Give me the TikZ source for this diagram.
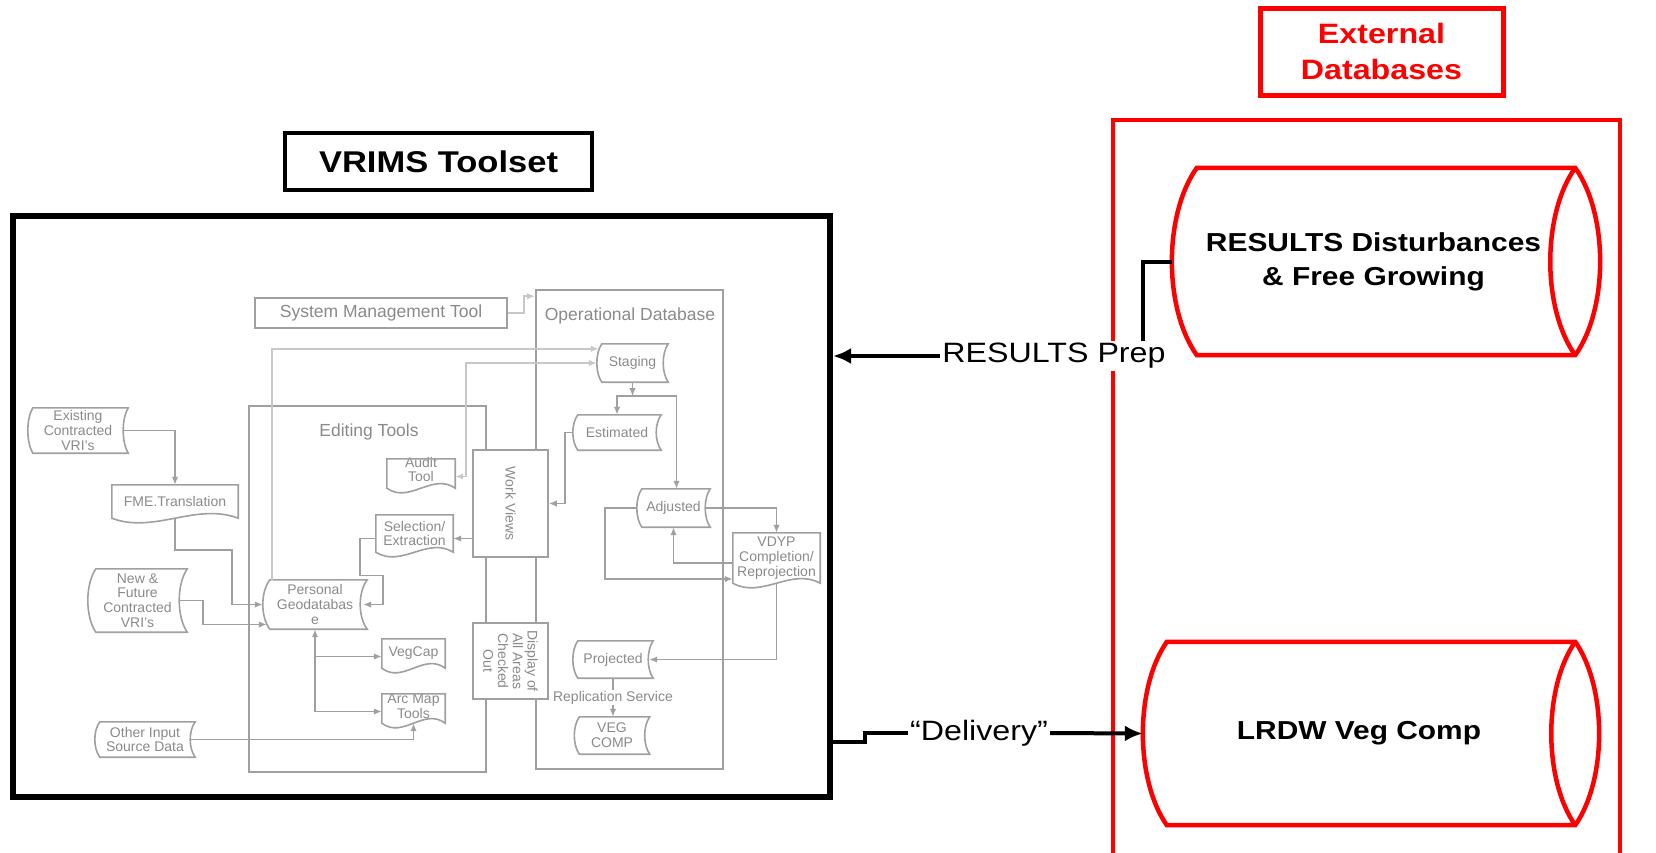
\documentclass[tikz,border=0pt]{standalone}
\usepackage{fontspec}
\setmainfont{Liberation Sans}
\newfontfamily\widefont[FakeStretch=1.15]{Liberation Sans}
\usepackage{tikz}
\usetikzlibrary{shapes,arrows.meta,positioning,calc}

\definecolor{lineg}{HTML}{A0A0A0}
\definecolor{textg}{HTML}{8A8A8A}
\definecolor{lightg}{HTML}{C8C8C8}
\definecolor{xred}{HTML}{FF0000}

% outline of a stored data symbol round node #1, curve depth #2
\newcommand{\sdframe}[2]{%
  \draw[gline] ($(#1.north west)+(#2,0)$) -- (#1.north east)
    .. controls ($(#1.north east)!0.25!(#1.south east)+(-1.33*#2,0)$)
       and ($(#1.north east)!0.75!(#1.south east)+(-1.33*#2,0)$) .. (#1.south east)
    -- ($(#1.south west)+(#2,0)$)
    .. controls ($(#1.north west)!0.75!(#1.south west)+(-0.33*#2,0)$)
       and ($(#1.north west)!0.25!(#1.south west)+(-0.33*#2,0)$) .. ($(#1.north west)+(#2,0)$) -- cycle;}
% outline of a document symbol, wavy bottom
\newcommand{\docframe}[1]{%
  \draw[gline] (#1.south west) -- (#1.north west) -- (#1.north east) -- (#1.south east)
    .. controls ($(#1.south east)!0.333!(#1.south west)+(0,-16)$)
       and ($(#1.south east)!0.667!(#1.south west)+(0,16)$) .. (#1.south west) -- cycle;}
% lying cylinder round node #1, bulge #2, lens beyond the east side
\newcommand{\cylframe}[2]{%
  \draw[rline] ($(#1.north west)+(#2,0)$) -- (#1.north east)
    .. controls ($(#1.north east)!0.25!(#1.south east)+(1.33*#2,0)$)
       and ($(#1.north east)!0.75!(#1.south east)+(1.33*#2,0)$) .. (#1.south east)
    -- ($(#1.south west)+(#2,0)$)
    .. controls ($(#1.north west)!0.75!(#1.south west)+(-0.33*#2,0)$)
       and ($(#1.north west)!0.25!(#1.south west)+(-0.33*#2,0)$) .. ($(#1.north west)+(#2,0)$) -- cycle;
  \draw[rline] (#1.north east)
    .. controls ($(#1.north east)!0.25!(#1.south east)+(-1.33*#2,0)$)
       and ($(#1.north east)!0.75!(#1.south east)+(-1.33*#2,0)$) .. (#1.south east);}

\begin{document}
\begin{tikzpicture}[x=1pt,y=-1pt,>={Latex[length=8pt,width=6.5pt]},
    gline/.style={draw=lineg,line width=1.6pt},
    lline/.style={draw=lightg,line width=1.6pt},
    gnode/.style={text=textg,font=\fontsize{14}{14.7}\selectfont,align=center,inner sep=0pt},
    gbox/.style={gnode,draw=lineg,line width=1.6pt},
    gtitle/.style={text=textg,font=\fontsize{17.5}{20}\selectfont,inner sep=0pt,anchor=base},
    bline/.style={line width=4pt},
    barrow/.style={-{Latex[length=18pt,width=16pt]}},
    rline/.style={draw=xred,line width=4.5pt,line join=miter},
    titlebox/.style={draw,line width=4pt,align=center,font=\widefont\bfseries\fontsize{30}{36}\selectfont},
    outtext/.style={font=\widefont\fontsize{28}{34}\selectfont,fill=white,inner sep=2pt},
    cyltext/.style={align=center,inner sep=0pt,font=\widefont\bfseries\fontsize{26}{34}\selectfont}]
    \useasboundingbox (0,0) rectangle (1656,852);
    \clip (0,0) rectangle (1656,852);

    \node[draw,line width=6pt,minimum width=817pt,minimum height=581pt] (toolset) at (421.5,506.5) {};
    \node[rline,minimum width=507pt,minimum height=750pt] (extbox) at (1366.5,495) {};

    % grey VRIMS diagram
    \node[gbox,minimum width=237pt,minimum height=366pt] (edit) at (367.5,589) {};
    \node[gbox,minimum width=187pt,minimum height=479pt] (opdb) at (629.5,529.5) {};
    \node[gtitle] (edittitle) at (369,436) {Editing Tools};
    \node[gtitle] (opdbtitle) at (630,320) {Operational Database};
    \node[gbox,fill=white,minimum width=252pt,minimum height=30pt,font=\fontsize{17.5}{20}\selectfont] (smt) at (381,313) {System Management Tool};
    \node[gbox,fill=white,minimum width=75pt,minimum height=107pt,
      label={[gnode,rotate=-90]center:Work Views}] (workviews) at (510.5,503.5) {};
    \node[gbox,fill=white,minimum width=75pt,minimum height=76pt,
      label={[gnode,rotate=-90]center:Display of\\All Areas\\Checked\\Out}] (display) at (510.5,661) {};

    \node[gnode,minimum width=100pt,minimum height=45pt] (exist) at (78,430.5) {Existing\\Contracted\\VRI's};
    \node[gnode,minimum width=99pt,minimum height=63pt] (newvri) at (137.5,600.5) {New \&\\Future\\Contracted\\VRI's};
    \node[gnode,minimum width=100pt,minimum height=35pt] (other) at (145,739.5) {Other Input\\Source Data};
    \node[gnode,minimum width=104pt,minimum height=49pt] (pgdb) at (315,604.5) {Personal\\Geodatabas\\e};
    \node[gnode,minimum width=71pt,minimum height=38pt] (staging) at (632.5,363) {Staging};
    \node[gnode,minimum width=88pt,minimum height=35pt] (estimated) at (617,432.5) {Estimated};
    \node[gnode,minimum width=73pt,minimum height=38pt] (adjusted) at (673.5,508) {Adjusted};
    \node[gnode,minimum width=80pt,minimum height=37pt] (projected) at (613,659.5) {Projected};
    \node[gnode,minimum width=75pt,minimum height=37pt] (vegcomp) at (612,735.5) {VEG\\COMP};

    \node[gnode,minimum width=126pt,minimum height=33pt] (fme) at (175,501.5) {FME.Translation};
    \node[gnode,minimum width=68pt,minimum height=29pt,
      label={[gnode,yshift=4pt]center:Audit\\Tool}] (audit) at (421,473.5) {};
    \node[gnode,minimum width=77pt,minimum height=37pt] (selection) at (414.5,533.5) {Selection/\\Extraction};
    \node[gnode,minimum width=63pt,minimum height=29pt] (vegcap) at (413.5,653.5) {VegCap};
    \node[gnode,minimum width=63pt,minimum height=29pt,
      label={[gnode,yshift=2pt]center:Arc Map\\Tools}] (arcmap) at (413.5,708.5) {};
    \node[gnode,minimum width=87pt,minimum height=50pt] (vdyp) at (776.5,558) {VDYP\\Completion/\\Reprojection};

    \foreach \n/\c in {exist/5,newvri/8,other/5,pgdb/7,staging/5,estimated/5,adjusted/5,projected/5,vegcomp/5}
        \sdframe{\n}{\c};
    \foreach \n in {fme,audit,selection,vegcap,arcmap,vdyp}
        \docframe{\n};

    \draw[lline,->] (smt.east) -- ++(16,0) |- ($(opdb.north west)+(0,7)$);
    \draw[lline,->] ($(pgdb.north west)+(9,0)$) |- ($(staging.north west)+(2,5)$);
    \draw[lline,<->] ($(audit.east)+(0,3)$) -- ++(11,0) |- (staging.west);

    \draw[gline,->] (staging.south) -- ++(0,14);
    \draw[gline,->] ($(staging.south)+(0,14)$) -| (estimated.north);
    \draw[gline,->] ($(staging.south)+(0,14)$) -| ($(adjusted.north)+(3,0)$);
    \draw[gline,->] (estimated.west) -- ++(-8,0) |- (workviews.east);
    \draw[gline,->] ($(workviews.west |- selection.east)+(0,5)$) -- ($(selection.east)+(0,5)$);
    \draw[gline,->] ($(selection.west)+(0,5)$) -- ++(-16,0) |- ++(23,37) |- ($(pgdb.east)+(-4,0)$);
    \draw[gline,->] ($(exist.east)+(-5,0)$) -| (fme.north);
    \draw[gline,->] (fme.south) -- ++(0,32) -- ++(57,0) |- (pgdb.west);
    \draw[gline,->] ($(newvri.east)+(-7,0)$) -- ++(23,0) |- ($(pgdb.west)+(4,20)$);
    \draw[gline,<->] (pgdb.south) |- ($(arcmap.west)+(0,3)$);
    \draw[gline,->] ($(pgdb.south |- vegcap.west)+(0,3)$) -- ($(vegcap.west)+(0,3)$);
    \draw[gline,->] ($(other.east)+(-5,0)$) -| (arcmap.south);
    \draw[gline,->] ($(adjusted.east)+(-5,0)$) -| (vdyp.north);
    \draw[gline,->] ($(vdyp.west)+(0,5)$) -| (adjusted.south);
    \draw[gline,->] (adjusted.west) -- ++(-32,0) |- ($(vdyp.west)+(0,21)$);
    \draw[gline,->] (vdyp.south) |- ($(projected.east)+(-4,0)$);
    \draw[gline,->] (projected.south) -- node[gnode,fill=white,inner sep=1pt] (repl) {Replication Service} (projected.south |- vegcomp.north);

    % outer parts
    \node[titlebox,minimum width=307pt,minimum height=57pt] (vrims) at (438.5,161.5) {VRIMS Toolset};
    \node[titlebox,draw=xred,text=xred,line width=5pt,minimum width=243pt,minimum height=87pt,
      font=\widefont\bfseries\fontsize{28}{36}\selectfont] (extdb) at (1381.5,51.5) {External\\Databases};

    \node[cyltext,minimum width=403pt,minimum height=187pt] (results) at (1373.5,261.5) {RESULTS Disturbances\\\& Free Growing};
    \cylframe{results}{25}
    \node[cyltext,minimum width=432pt,minimum height=183pt] (lrdw) at (1359,733.5) {LRDW Veg Comp};
    \cylframe{lrdw}{24}

    \node[outtext] (prep) at (1054,356) {RESULTS Prep};
    \draw[bline] (results.west) -| ($(prep.north east)+(-25,0)$);
    \draw[bline,barrow] (prep.west) -- (prep.west -| toolset.east);

    \node[outtext] (deliv) at (979,733) {“Delivery”};
    \draw[bline] ($(toolset.east |- deliv.west)+(0,9)$) -- ++(32,0) |- (deliv.west);
    \draw[bline,barrow] (deliv.east) -- (lrdw.west);
\end{tikzpicture}
\end{document}
